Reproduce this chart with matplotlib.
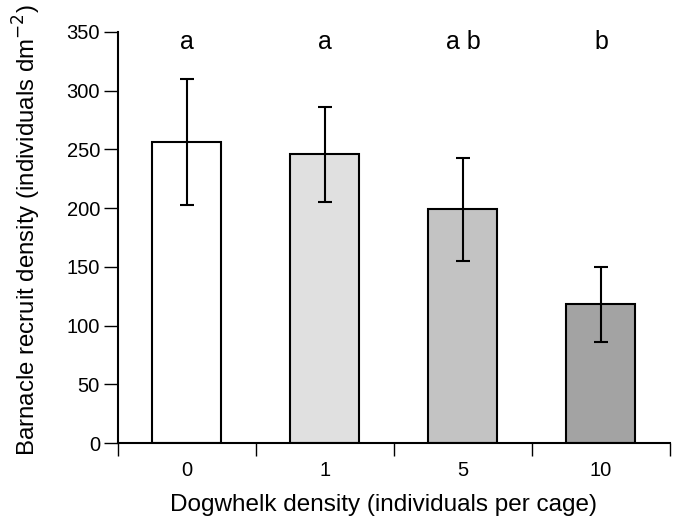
import numpy as np
import matplotlib
matplotlib.use("Agg")
import matplotlib.pyplot as plt

# data
categories = ["0", "1", "5", "10"]
means = [256, 246, 199, 118]
err_upper = [310, 286, 243, 150]
err_lower = [203, 205, 155, 86]
letters = ["a", "a", "a b", "b"]
bar_colors = ["#ffffff", "#e0e0e0", "#c3c3c3", "#a3a3a3"]

plt.rcParams['font.family'] = ['Liberation Sans', 'DejaVu Sans']

fig = plt.figure(figsize=(6.76, 5.21), dpi=100)
ax = fig.add_axes([0.1745, 0.1497, 0.8165, 0.7889])

x = np.arange(len(categories))
means = np.array(means)
yerr = np.array([means - np.array(err_lower), np.array(err_upper) - means])

ax.bar(x, means, width=0.5, color=bar_colors, edgecolor="black", linewidth=1.5, zorder=2)
ax.errorbar(x, means, yerr=yerr, fmt="none", ecolor="black", elinewidth=1.5,
            capsize=5, capthick=1.5, zorder=3)

for xi, lab in zip(x, letters):
    ax.text(xi, 341.5, lab, ha="center", va="center", fontsize=18)

ax.set_xlim(-0.5, 3.5)
ax.set_ylim(0, 350)
ax.set_yticks(np.arange(0, 351, 50))
ax.set_xticks(x)
ax.set_xticklabels(categories)
ax.set_xticks(np.arange(-0.5, 3.6, 1), minor=True)
ax.tick_params(axis="x", which="major", length=0, labelsize=14.5, pad=13)
ax.tick_params(axis="x", which="minor", length=9, width=1, direction="out")
ax.tick_params(axis="y", length=10, width=1, labelsize=14.5, pad=3)

ax.spines["top"].set_visible(False)
ax.spines["right"].set_visible(False)
ax.spines["left"].set_linewidth(1.5)
ax.spines["bottom"].set_linewidth(1.5)

ax.set_xlabel("Dogwhelk density (individuals per cage)", fontsize=17.5)
ax.xaxis.set_label_coords(0.481, -0.125)
ax.set_ylabel("Barnacle recruit density (individuals dm$^{-2}$)", fontsize=17.3)
ax.yaxis.set_label_coords(-0.136, 0.518)

fig.savefig("out.png", dpi=100)
